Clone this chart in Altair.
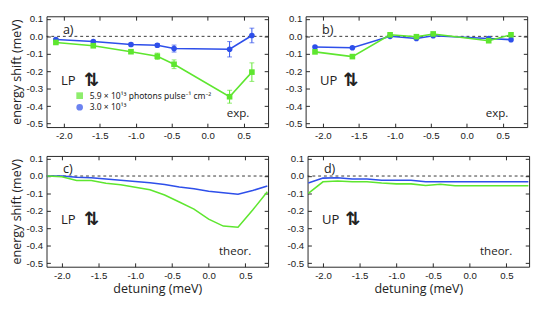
import altair as alt
import pandas as pd

# ---------------- data ----------------
SER_HI = "5.9 × 10¹³ photons pulse⁻¹ cm⁻²"
SER_LO = "3.0 × 10¹³"
series_names = [SER_HI, SER_LO]
series_colors = ["#5EE62F", "#2E4FEA"]
series_shapes = ["square", "circle"]

exp_detuning = [-2.11, -1.59, -1.066, -0.70, -0.467, 0.305, 0.615]

lp_hi = [-0.035, -0.054, -0.088, -0.114, -0.160, -0.346, -0.205]
lp_hi_err = [0.007, 0.008, 0.009, 0.018, 0.025, 0.037, 0.053]
lp_lo = [-0.018, -0.030, -0.047, -0.051, -0.070, -0.074, 0.005]
lp_lo_err = [0.006, 0.007, 0.008, 0.010, 0.020, 0.044, 0.042]

up_hi = [-0.089, -0.116, 0.009, -0.002, 0.014, -0.025, 0.009]
up_lo = [-0.061, -0.065, 0.000, -0.012, 0.004, -0.012, -0.019]

theo_detuning = [-2.2, -2.0, -1.8, -1.6, -1.4, -1.2, -1.0, -0.8,
                 -0.6, -0.4, -0.2, 0.0, 0.2, 0.4, 0.6, 0.8]
lp_theo_hi = [0.0, -0.004, -0.026, -0.026, -0.042, -0.050, -0.065, -0.079,
              -0.109, -0.149, -0.190, -0.247, -0.287, -0.294, -0.195, -0.090]
lp_theo_lo = [0.0, 0.0, -0.007, -0.010, -0.017, -0.024, -0.031, -0.038,
              -0.049, -0.063, -0.073, -0.087, -0.096, -0.104, -0.083, -0.057]
up_theo_hi = [-0.099, -0.033, -0.028, -0.033, -0.033, -0.040, -0.045, -0.045,
              -0.054, -0.047, -0.056, -0.056, -0.056, -0.056, -0.056, -0.056]
up_theo_lo = [-0.040, -0.012, -0.010, -0.017, -0.017, -0.024, -0.024, -0.024,
              -0.033, -0.033, -0.033, -0.033, -0.033, -0.033, -0.033, -0.033]

zero_level = [0.0]
y_ticks = [0.1, 0.0, -0.1, -0.2, -0.3, -0.4, -0.5]
x_ticks = [-2.0, -1.5, -1.0, -0.5, 0.0, 0.5]

# ---------------- layout / style ----------------
W, H = 230, 115
Y_DOM = [-0.52, 0.115]
X_DOM_EXP = [-2.24, 0.84]
X_DOM_THEO = [-2.21, 0.81]
FRAME = "#222222"
LABEL_EXPR = "(datum.value < -0.00001 ? '-' : '') + format(abs(datum.value), '.1f')"

color_scale = alt.Scale(domain=series_names, range=series_colors)
shape_scale = alt.Scale(domain=series_names, range=series_shapes)


def exp_frame(hi, lo, hi_err=None, lo_err=None):
    rows = []
    for name, ys, es in [(SER_LO, lo, lo_err), (SER_HI, hi, hi_err)]:
        for i, (x, y) in enumerate(zip(exp_detuning, ys)):
            e = es[i] if es is not None else 0.0
            rows.append({"detuning": x, "shift": y, "lo": y - e, "hi": y + e,
                         "series": name, "has_err": es is not None})
    return pd.DataFrame(rows)


def theo_frame(hi, lo):
    rows = []
    for name, ys in [(SER_LO, lo), (SER_HI, hi)]:
        for x, y in zip(theo_detuning, ys):
            rows.append({"detuning": x, "shift": y, "series": name})
    return pd.DataFrame(rows)


def tick_axis(orient, offset, vals):
    return alt.Axis(orient=orient, offset=offset, values=vals, labels=False,
                    domain=False, grid=False, ticks=True, tickSize=4,
                    tickColor=FRAME, tickWidth=1, title=None)


def panel(df, xdom, letter, pol, kind, left_title, bottom_title,
          errors=False, points=False, legend=False):
    xs = alt.Scale(domain=xdom, nice=False, zero=False)
    ys = alt.Scale(domain=Y_DOM, nice=False, zero=False)

    main_x = alt.Axis(values=x_ticks, labelExpr=LABEL_EXPR, ticks=False,
                      tickSize=0, domain=False, grid=False, labelPadding=4,
                      titlePadding=3)
    main_y = alt.Axis(values=y_ticks, labelExpr=LABEL_EXPR, ticks=False,
                      tickSize=0, domain=False, grid=False, labelPadding=4,
                      titlePadding=3)

    if legend:
        leg = alt.Legend(orient="none", legendX=30, legendY=78, title=None,
                         labelFont="Noto Sans", labelFontSize=8.8,
                         labelColor="#222", symbolSize=48,
                         symbolStrokeWidth=0, rowPadding=2, labelOffset=6,
                         symbolType="square")
        col = alt.Color("series:N", scale=color_scale, legend=leg)
        shp = alt.Shape("series:N", scale=shape_scale, legend=leg)
    else:
        col = alt.Color("series:N", scale=color_scale, legend=None)
        shp = alt.Shape("series:N", scale=shape_scale, legend=None)

    base = alt.Chart(df)

    zero = alt.Chart(pd.DataFrame({"level": zero_level})).mark_rule(
        color="#333", strokeDash=[3, 3], strokeWidth=1).encode(
        y=alt.Y("level:Q", scale=ys, axis=None))

    lines = base.mark_line(strokeWidth=1.6).encode(
        x=alt.X("detuning:Q", scale=xs, axis=main_x,
                title=bottom_title if bottom_title else None),
        y=alt.Y("shift:Q", scale=ys, axis=main_y,
                title=left_title if left_title else None),
        color=col,
        detail="series:N",
    )

    carrier1 = base.mark_point(opacity=0).encode(
        x=alt.X("detuning:Q", scale=xs, axis=tick_axis("top", -H, x_ticks)),
        y=alt.Y("shift:Q", scale=ys, axis=tick_axis("right", -W, y_ticks)),
    )
    carrier2 = base.mark_point(opacity=0).encode(
        x=alt.X("detuning:Q", scale=xs, axis=tick_axis("bottom", -H, x_ticks)),
        y=alt.Y("shift:Q", scale=ys, axis=tick_axis("left", -W, y_ticks)),
    )

    layers = [zero, lines]

    if errors:
        err = base.transform_filter("datum.has_err")
        bars = err.mark_rule(strokeWidth=1).encode(
            x=alt.X("detuning:Q", scale=xs, axis=None),
            y=alt.Y("lo:Q", scale=ys, axis=None),
            y2="hi:Q",
            color=col,
        )
        cap_lo = err.mark_tick(orient="horizontal", size=5, thickness=1).encode(
            x=alt.X("detuning:Q", scale=xs, axis=None),
            y=alt.Y("lo:Q", scale=ys, axis=None),
            color=col,
        )
        cap_hi = err.mark_tick(orient="horizontal", size=5, thickness=1).encode(
            x=alt.X("detuning:Q", scale=xs, axis=None),
            y=alt.Y("hi:Q", scale=ys, axis=None),
            color=col,
        )
        layers += [bars, cap_lo, cap_hi]

    if points:
        pts = base.mark_point(filled=True, size=34, opacity=1).encode(
            x=alt.X("detuning:Q", scale=xs, axis=None),
            y=alt.Y("shift:Q", scale=ys, axis=None),
            color=col, shape=shp,
        )
        layers.append(pts)

    # annotations
    def note(label, x, y, size, font="Open Sans", weight="normal", align="left"):
        return alt.Chart(pd.DataFrame({"label": [label]})).mark_text(
            font=font, fontSize=size, fontWeight=weight, align=align,
            baseline="middle", color="#222").encode(
            x=alt.value(x), y=alt.value(y), text="label:N")

    layers.append(note(letter, 17, 14, 13))
    layers.append(note(pol, 15, 67, 13.5))
    layers.append(note("⇅", 39, 66, 19, font="DejaVu Sans", weight="bold"))
    if kind == "exp.":
        layers.append(note(kind, 187, 101, 12))
    else:
        layers.append(note(kind, 179, 99, 12))

    layers += [carrier1, carrier2]

    return alt.layer(*layers).resolve_axis(x="independent", y="independent").properties(
        width=W, height=H)


df_a = exp_frame(lp_hi, lp_lo, lp_hi_err, lp_lo_err)
df_b = exp_frame(up_hi, up_lo)
df_c = theo_frame(lp_theo_hi, lp_theo_lo)
df_d = theo_frame(up_theo_hi, up_theo_lo)

pa = panel(df_a, X_DOM_EXP, "a)", "LP", "exp.", "energy shift (meV)", "",
           errors=True, points=True, legend=True)
pb = panel(df_b, X_DOM_EXP, "b)", "UP", "exp.", "", "", points=True)
pc = panel(df_c, X_DOM_THEO, "c)", "LP", "theor.", "energy shift (meV)",
           "detuning (meV)")
pd_ = panel(df_d, X_DOM_THEO, "d)", "UP", "theor.", "", "detuning (meV)")

chart = alt.vconcat(
    alt.hconcat(pa, pb, spacing=16),
    alt.hconcat(pc, pd_, spacing=16),
    spacing=12,
).resolve_scale(color="independent", shape="independent").properties(
    padding={"left": 2, "top": 0, "right": 0, "bottom": 0}
).configure_view(
    stroke=FRAME, strokeWidth=1
).configure_axis(
    labelFont="Liberation Sans", labelFontSize=10, labelColor="#222",
    titleFont="Open Sans", titleFontSize=13, titleFontWeight="normal",
    titleColor="#222"
)

chart.save("out.html", embed_options={"renderer": "svg", "actions": False})
